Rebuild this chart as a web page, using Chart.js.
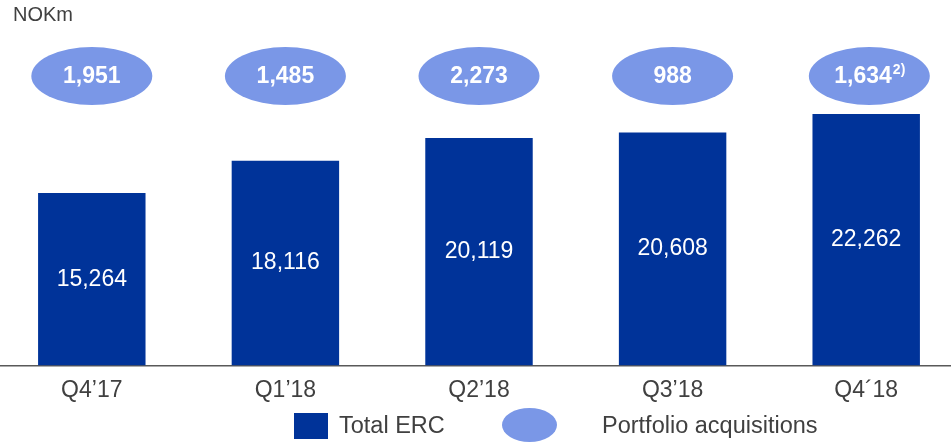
<!DOCTYPE html>
<html>
<head>
<meta charset="utf-8">
<script src="https://cdn.jsdelivr.net/npm/chart.js@4.4.0/dist/chart.umd.min.js"></script>
<style>
  html, body { margin: 0; padding: 0; background: #fff; overflow: hidden; }
  /* plot runs a few px past both edges like the slide does */
  #wrap { position: absolute; left: -5px; top: 0; width: 968px; height: 443px; }
</style>
</head>
<body>
<div id="wrap"><canvas id="myChart"></canvas></div>
<script>
var quarters = ["Q4’17", "Q1’18", "Q2’18", "Q3’18", "Q4´18"];
var totalErc = [15264, 18116, 20119, 20608, 22262];
var acquisitions = [1951, 1485, 2273, 988, 1634];
var acqNotes = ["", "", "", "", "2)"];

var darkBlue = "#003399";
var lightBlue = "#7a97e7";
var textGrey = "#404040";
var fontName = "'Liberation Sans', Arial, sans-serif";

function fmt(v) {
  return String(v).replace(/\B(?=(\d{3})+(?!\d))/g, ",");
}

// labels in bars, acquisition ellipses, unit and legend
var extras = {
  id: "extras",
  afterDatasetsDraw: function(chart) {
    var ctx = chart.ctx;
    var area = chart.chartArea;
    var xs = chart.scales.x;
    var meta = chart.getDatasetMeta(0);
    ctx.save();
    ctx.textBaseline = "middle";

    ctx.fillStyle = "#fff";
    ctx.textAlign = "center";
    ctx.font = "23px " + fontName;
    meta.data.forEach(function(bar, i) {
      ctx.fillText(fmt(totalErc[i]), bar.x, (bar.y + bar.base) / 2);
    });

    var cy = area.top + 49.5;
    acquisitions.forEach(function(v, i) {
      var cx = xs.getPixelForValue(i);
      var main = fmt(v);
      var note = acqNotes[i];
      ctx.font = "bold 23px " + fontName;
      var w1 = ctx.measureText(main).width;
      ctx.font = "bold 14px " + fontName;
      var w2 = note ? ctx.measureText(note).width : 0;
      var ex = cx + w2 / 4;

      ctx.fillStyle = lightBlue;
      ctx.beginPath();
      ctx.ellipse(ex, cy, 60.5, 29, 0, 0, 2 * Math.PI);
      ctx.fill();

      var left = ex - (w1 + w2) / 2;
      ctx.fillStyle = "#fff";
      ctx.textAlign = "left";
      ctx.font = "bold 23px " + fontName;
      ctx.fillText(main, left, cy + 1);
      if (note) {
        ctx.font = "bold 14px " + fontName;
        ctx.fillText(note, left + w1 + 1, cy - 6);
      }
    });

    // unit
    ctx.fillStyle = textGrey;
    ctx.textAlign = "left";
    ctx.font = "20px " + fontName;
    ctx.fillText("NOKm", 18, 15);

    // legend
    ctx.fillStyle = darkBlue;
    ctx.fillRect(299, 413, 34, 26);
    ctx.fillStyle = lightBlue;
    ctx.beginPath();
    ctx.ellipse(534.5, 425, 27.5, 17, 0, 0, 2 * Math.PI);
    ctx.fill();
    ctx.fillStyle = textGrey;
    ctx.font = "23.5px " + fontName;
    ctx.fillText("Total ERC", 344, 427);
    ctx.fillText("Portfolio acquisitions", 607, 427);

    ctx.restore();
  }
};

new Chart("myChart", {
  type: "bar",
  data: {
    labels: quarters,
    datasets: [{
      label: "Total ERC",
      data: totalErc,
      backgroundColor: darkBlue,
      barPercentage: 0.555,
      categoryPercentage: 1
    }]
  },
  options: {
    responsive: true,
    maintainAspectRatio: false,
    animation: false,
    layout: { padding: { top: 26.5, bottom: 28, left: 0, right: 0 } },
    plugins: {
      legend: { display: false },
      tooltip: { enabled: false }
    },
    scales: {
      x: {
        grid: { display: false, drawTicks: false },
        border: { display: true, color: "#595959", width: 1.5 },
        ticks: { color: textGrey, font: { family: fontName, size: 23 }, padding: 11 }
      },
      y: { display: false, min: 0, max: 30000 }
    }
  },
  plugins: [extras]
});
</script>
</body>
</html>
